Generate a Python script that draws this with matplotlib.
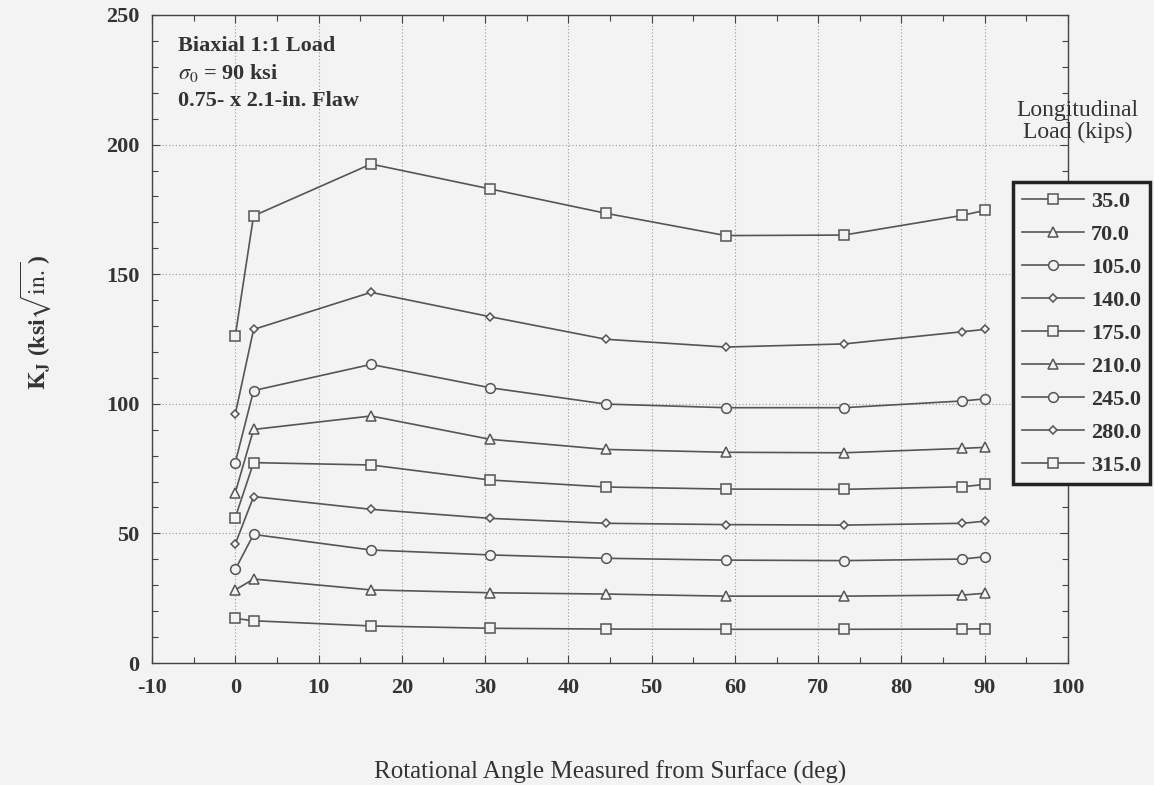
import matplotlib
matplotlib.use("Agg")
import matplotlib.pyplot as plt
from matplotlib.ticker import MultipleLocator

plt.rcParams['font.family'] = ['Liberation Serif', 'DejaVu Serif']
plt.rcParams['mathtext.fontset'] = 'stix'
plt.rcParams['axes.unicode_minus'] = False

# ---- data ----
angles = [0, 2.2, 16.3, 30.6, 44.5, 58.9, 73.1, 87.3, 90]
loads = ["35.0", "70.0", "105.0", "140.0", "175.0", "210.0", "245.0", "280.0", "315.0"]
k_35 = [17.2, 16.3, 14.3, 13.4, 13.1, 13.0, 13.0, 13.1, 13.2]
k_70 = [28.2, 32.4, 28.2, 27.1, 26.6, 25.8, 25.8, 26.2, 26.9]
k_105 = [36.1, 49.6, 43.6, 41.7, 40.4, 39.7, 39.5, 40.1, 41.0]
k_140 = [45.9, 64.2, 59.3, 55.8, 53.9, 53.4, 53.2, 53.9, 54.7]
k_175 = [56.1, 77.3, 76.4, 70.6, 67.9, 67.1, 67.0, 68.0, 68.9]
k_210 = [65.7, 90.1, 95.3, 86.3, 82.4, 81.3, 81.1, 82.8, 83.2]
k_245 = [77.3, 105.1, 115.2, 106.2, 99.9, 98.5, 98.5, 101.1, 101.9]
k_280 = [96.0, 128.7, 143.0, 133.6, 124.9, 121.9, 123.1, 127.8, 128.7]
k_315 = [126.2, 172.5, 192.5, 182.9, 173.5, 164.9, 165.1, 172.7, 174.6]
series = [k_35, k_70, k_105, k_140, k_175, k_210, k_245, k_280, k_315]

markers = ['s', '^', 'o', 'D', 's', '^', 'o', 'D', 's']
msizes = [7.5, 6.5, 7, 4.5, 7.5, 6.5, 7, 4.5, 7.5]

bg = '#f3f3f3'
lc = '#555555'
tc = '#333333'

fig = plt.figure(figsize=(11.54, 7.85), dpi=100, facecolor=bg)
ax = fig.add_axes([0.1317, 0.1554, 0.7938, 0.8255], facecolor=bg)

for ys, lab, m, ms in zip(series, loads, markers, msizes):
    ax.plot(angles, ys, color=lc, lw=1.2, marker=m, ms=ms,
            mfc=bg, mec=lc, mew=1.1, label=lab, zorder=3)

ax.set_xlim(-10, 100)
ax.set_ylim(0, 250)
ax.xaxis.set_major_locator(MultipleLocator(10))
ax.xaxis.set_minor_locator(MultipleLocator(5))
ax.yaxis.set_major_locator(MultipleLocator(50))
ax.yaxis.set_minor_locator(MultipleLocator(10))
ax.tick_params(which='both', direction='in', top=True, right=True,
               color='#444444')
ax.tick_params(which='major', length=6, width=0.8)
ax.tick_params(which='minor', length=4, width=0.8)
ax.tick_params(axis='x', pad=11)
ax.tick_params(axis='y', pad=9)
for lbl in ax.get_xticklabels() + ax.get_yticklabels():
    lbl.set_fontsize(16)
    lbl.set_fontweight('bold')
    lbl.set_color(tc)
ax.grid(True, which='major', ls=(0, (1, 2)), color='#999999', lw=0.8)
for s in ax.spines.values():
    s.set_color('#444444')
    s.set_linewidth(1.0)

ax.set_xlabel('Rotational Angle Measured from Surface (deg)', fontsize=18,
              color=tc, labelpad=45)
ax.set_ylabel(r'$\mathbf{K}_{\mathbf{J}}$ (ksi$\sqrt{\mathrm{in.}}$)', fontsize=17,
              color=tc, fontweight='bold')
ax.yaxis.set_label_coords(-0.108, 0.526)

ax.text(0.028, 0.9525, 'Biaxial 1:1 Load', transform=ax.transAxes,
        fontsize=16, fontweight='bold', color=tc, va='center')
ax.text(0.028, 0.9105, r'$\sigma_0$ = 90 ksi', transform=ax.transAxes,
        fontsize=16, fontweight='bold', color=tc, va='center')
ax.text(0.028, 0.8673, '0.75- x 2.1-in. Flaw', transform=ax.transAxes,
        fontsize=16, fontweight='bold', color=tc, va='center')

fig.text(0.934, 0.845, 'Longitudinal\nLoad (kips)', ha='center', va='center',
         fontsize=17, color=tc, linespacing=1.05)

leg = ax.legend(loc='upper left', bbox_to_anchor=(0.878, 0.768),
                bbox_transform=fig.transFigure, borderaxespad=0,
                prop={'family': 'Liberation Serif', 'weight': 'bold', 'size': 16},
                handlelength=2.8, handletextpad=0.3, labelspacing=0.56,
                borderpad=0.4, fancybox=False, framealpha=1, facecolor=bg,
                edgecolor='#222222')
leg.get_frame().set_linewidth(2.5)
for t in leg.get_texts():
    t.set_color(tc)

fig.savefig('out.png', dpi=100, facecolor=bg)
